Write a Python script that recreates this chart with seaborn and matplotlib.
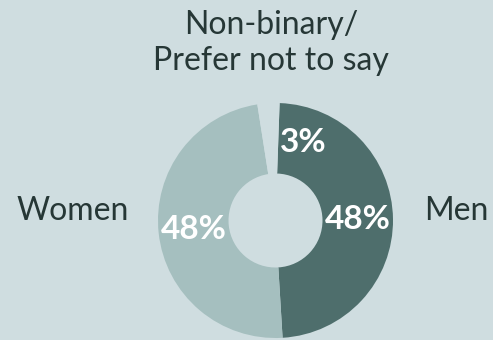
import numpy as np
import matplotlib
matplotlib.use("Agg")
import matplotlib.pyplot as plt
import seaborn as sns

# Gender split of respondents (percent)
categories = ["Men", "Women", "Non-binary/\nPrefer not to say"]
shares = [48, 48, 3]
pct_labels = ["48%", "48%", "3%"]

bg = "#cfdde0"
palette = sns.color_palette(["#4e6e6c", "#a5bfbf", bg])
text_dark = "#263736"

sns.set_theme(style="white")
plt.rcParams["font.family"] = ["Lato", "DejaVu Sans"]

fig = plt.figure(figsize=(4.93, 3.40), dpi=100, facecolor=bg)
ax = fig.add_axes([0, 0, 1, 1])
ax.set_facecolor(bg)

cx, cy, R = 275.5, 119.5, 117.5
hole = 0.40
start = 88  # degrees, measured counter-clockwise from 3 o'clock

wedges, _ = ax.pie(
    shares, colors=palette, startangle=start, counterclock=False,
    radius=R, center=(cx, cy), frame=True,
    wedgeprops=dict(width=R * (1 - hole), linewidth=0),
)

# Percent labels at the middle of the ring
total = sum(shares)
ring_r = R * (1 + hole) / 2
theta = start
for i, (v, lab) in enumerate(zip(shares, pct_labels)):
    span = 360 * v / total
    mid = theta - span / 2
    theta -= span
    if i == 2:
        mid -= 23  # small slice: label sits just clockwise of the gap
    a = np.deg2rad(mid)
    ax.text(cx + ring_r * np.cos(a), cy + ring_r * np.sin(a), lab,
            ha="center", va="center", color="white", fontsize=24,
            fontweight="bold")

# Category names around the ring
name_kw = dict(color=text_dark, fontsize=23, fontweight="normal")
ax.text(129, cy + 10, categories[1], ha="right", va="center", **name_kw)
ax.text(424, cy + 10, categories[0], ha="left", va="center", **name_kw)
ax.text(271, 297, categories[2], ha="center", va="center",
        linespacing=1.22, **name_kw)

ax.set_xlim(0, 493)
ax.set_ylim(0, 340)
ax.set_aspect("equal")
ax.axis("off")

fig.savefig("out.png", dpi=100, facecolor=bg)
